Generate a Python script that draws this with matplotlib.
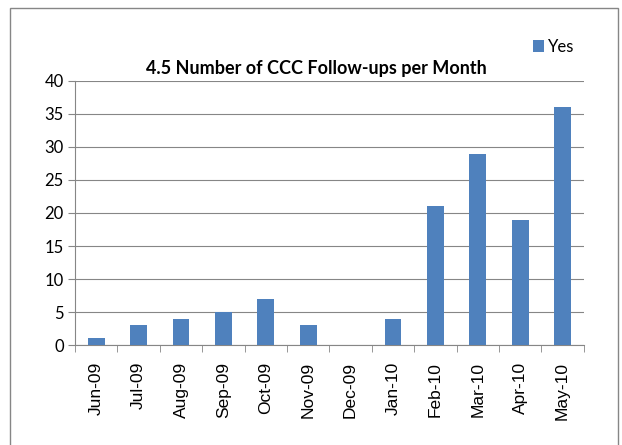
import matplotlib.pyplot as plt
from matplotlib.patches import Rectangle

# Данные
months = ['Jun-09', 'Jul-09', 'Aug-09', 'Sep-09', 'Oct-09', 'Nov-09',
          'Dec-09', 'Jan-10', 'Feb-10', 'Mar-10', 'Apr-10', 'May-10']
yes_counts = [1, 3, 4, 5, 7, 3, 0, 4, 21, 29, 19, 36]

plt.rcParams['font.family'] = ['Lato', 'DejaVu Sans']

fig = plt.figure(figsize=(6.22, 4.45), dpi=100)
ax = fig.add_axes([0.1206, 0.2247, 0.818, 0.5933])

x = list(range(len(months)))
ax.bar(x, yes_counts, width=0.4, color='#4F81BD', label='Yes', zorder=3)

ax.set_xlim(-0.5, len(months) - 0.5)
ax.set_ylim(0, 40)
ax.set_yticks(range(0, 41, 5))
ax.tick_params(axis='y', labelsize=12, length=5, color='#868686', pad=3)
ax.grid(axis='y', color='#868686', linewidth=0.8, zorder=0)

ax.set_xticks(x)
ax.set_xticklabels(months, rotation=90, fontsize=12.5, family=['Liberation Sans', 'DejaVu Sans'])
ax.tick_params(axis='x', length=0, pad=12)
ax.set_xticks([i + 0.5 for i in range(-1, len(months))], minor=True)
ax.tick_params(axis='x', which='minor', length=5, color='#868686')

for side in ['top', 'right']:
    ax.spines[side].set_visible(False)
for side in ['left', 'bottom']:
    ax.spines[side].set_color('#868686')

fig.text(0.508, 0.845, '4.5 Number of CCC Follow-ups per Month',
         ha='center', va='center', fontsize=13, fontweight='bold')

ax.legend(loc='center', bbox_to_anchor=(0.94, 1.13), frameon=False,
          fontsize=12, handlelength=0.7, handleheight=0.7, handletextpad=0.2)

# Рамка вокруг графика
fig.patches.append(Rectangle((0.016, -0.01), 0.978, 0.992, transform=fig.transFigure,
                             fill=False, edgecolor='#868686', linewidth=1))

fig.savefig('out.png', dpi=100)
